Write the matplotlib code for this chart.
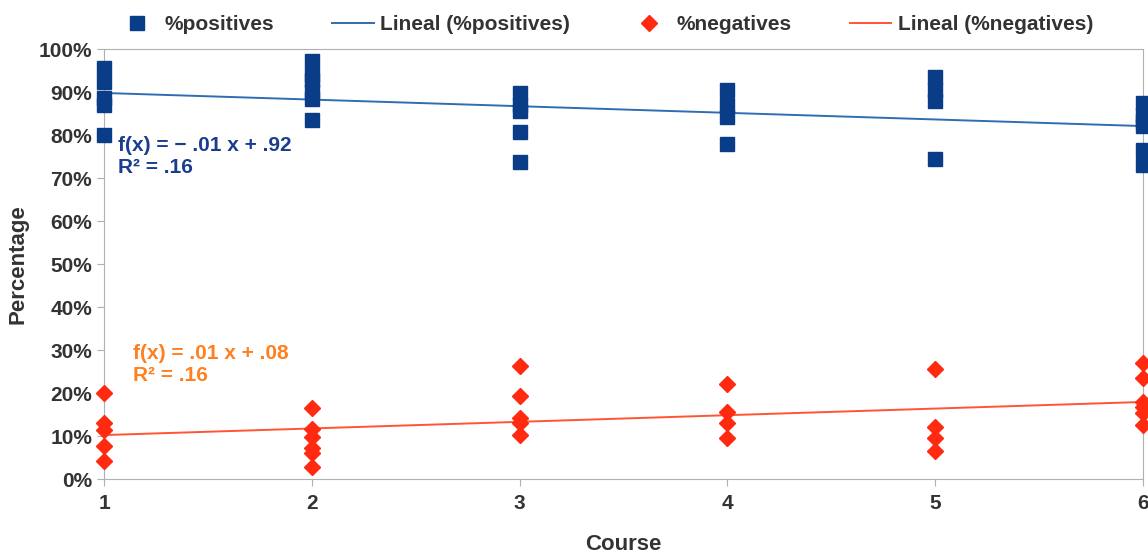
import numpy as np
import matplotlib
matplotlib.use("Agg")
import matplotlib.pyplot as plt
from matplotlib.ticker import PercentFormatter

plt.rcParams['font.family'] = ['Liberation Sans', 'DejaVu Sans']

# percentages, per course
pos_course = [1]*5 + [2]*6 + [3]*5 + [4]*4 + [5]*4 + [6]*6
pos_values = [80.0, 87.0, 88.6, 92.3, 95.7,
              83.4, 88.4, 90.2, 92.9, 94.0, 97.1,
              73.7, 80.6, 85.7, 87.0, 89.8,
              78.0, 84.3, 87.0, 90.5,
              74.4, 88.0, 90.5, 93.5,
              73.0, 76.6, 82.0, 83.2, 84.6, 87.4]
neg_course = pos_course
neg_values = [20.0, 13.0, 11.4, 7.7, 4.3,
              16.6, 11.6, 9.8, 7.1, 6.0, 2.9,
              26.3, 19.4, 14.3, 13.0, 10.2,
              22.0, 15.7, 13.0, 9.5,
              25.6, 12.0, 9.5, 6.5,
              27.0, 23.4, 18.0, 16.8, 15.4, 12.6]
courses = [1, 2, 3, 4, 5, 6]

navy = "#0a3d87"
blue_line = "#2f6cb3"
red = "#ff2a10"
red_line = "#ff5533"
orange = "#ff8020"
grey = "#b0b0b0"
txt = "#333333"

fig = plt.figure(figsize=(11.48, 5.57), dpi=100)
ax = fig.add_axes([0.0906, 0.140, 0.905, 0.772])

xs = np.array(courses, dtype=float)
p_fit = np.polyfit(pos_course, pos_values, 1)
n_fit = np.polyfit(neg_course, neg_values, 1)

ax.plot(xs, np.polyval(p_fit, xs), color=blue_line, lw=1.4, label="Lineal (%positives)", zorder=2)
ax.plot(xs, np.polyval(n_fit, xs), color=red_line, lw=1.4, label="Lineal (%negatives)", zorder=2)
ax.plot(pos_course, pos_values, ls="none", marker="s", ms=10, color=navy, label="%positives",
        zorder=3, clip_on=False)
ax.plot(neg_course, neg_values, ls="none", marker="D", ms=8.5, color=red, label="%negatives",
        zorder=3, clip_on=False)

ax.set_xlim(1, 6)
ax.set_ylim(0, 100)
ax.set_xticks(courses)
ax.set_yticks(np.arange(0, 101, 10))
ax.yaxis.set_major_formatter(PercentFormatter(decimals=0))
for s in ax.spines.values():
    s.set_color(grey)
ax.tick_params(colors=grey, labelcolor=txt, labelsize=15, length=5)
ax.tick_params(axis="x", pad=6)
for lab in ax.get_xticklabels() + ax.get_yticklabels():
    lab.set_fontweight("bold")
ax.set_xlabel("Course", fontsize=16, fontweight="bold", color=txt, labelpad=15)
ax.set_ylabel("Percentage", fontsize=16, fontweight="bold", color=txt, labelpad=7)

ax.text(1.067, 79.8, "f(x) = − .01 x + .92\nR² = .16", color="#1a3d90", fontsize=15,
        fontweight="bold", ha="left", va="top", linespacing=1.2)
ax.text(1.14, 31.5, "f(x) = .01 x + .08\nR² = .16", color=orange, fontsize=15,
        fontweight="bold", ha="left", va="top", linespacing=1.2)

h, l = ax.get_legend_handles_labels()
order = [2, 0, 3, 1]
fig.legend([h[i] for i in order], [l[i] for i in order], loc="upper left",
           bbox_to_anchor=(0.085, 1.006), ncol=4, frameon=False,
           prop={"weight": "bold", "size": 15}, columnspacing=2.8, handlelength=2.0,
           handletextpad=0.3, labelcolor=txt)

fig.savefig("out.png", dpi=100)
